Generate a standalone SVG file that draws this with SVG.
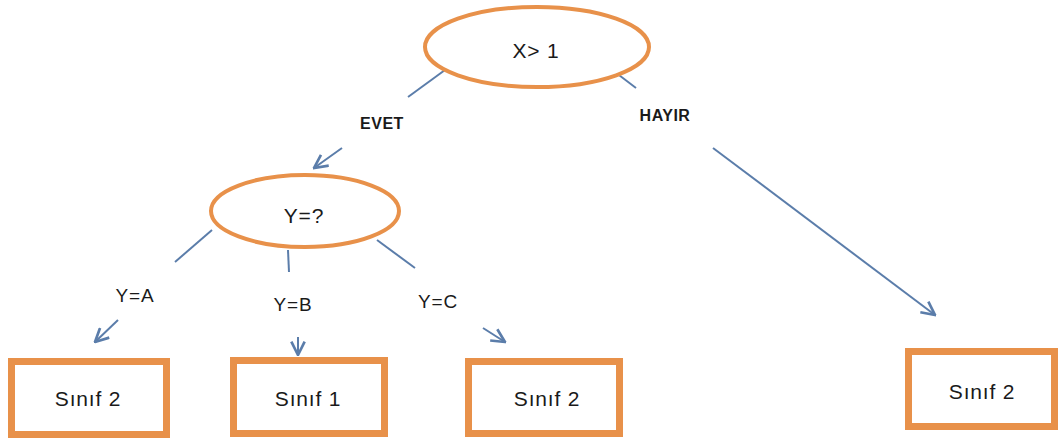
<svg xmlns="http://www.w3.org/2000/svg" width="1059" height="444" viewBox="0 0 1059 444">
<style>
.node{fill:#ffffff;stroke:#E8914A;}
.ell{stroke-width:4;}
.box{stroke-width:7;}
.t{font-family:"Liberation Sans",Arial,sans-serif;fill:#1a1a1a;text-anchor:middle;dominant-baseline:central;}
.nt{font-size:21px;letter-spacing:0.8px;}
.lbl{font-size:19px;letter-spacing:0.8px;}
.b{font-weight:bold;font-size:16px;letter-spacing:0.5px;}
.c{stroke:#5B7DAA;stroke-width:2;fill:none;}
</style>
<defs>
<marker id="ah" viewBox="0 0 12 12" refX="11" refY="6" markerWidth="16" markerHeight="16" markerUnits="userSpaceOnUse" orient="auto">
<path d="M1,1 L11,6 L1,11" fill="none" stroke="#5B7DAA" stroke-width="2"/>
</marker>
</defs>
<rect width="1059" height="444" fill="#ffffff"/>
<g id="connectors">
<line class="c" x1="445" y1="70" x2="408" y2="97"/>
<line class="c" x1="342" y1="148" x2="314" y2="168" marker-end="url(#ah)"/>
<line class="c" x1="615" y1="72" x2="636" y2="88"/>
<line class="c" x1="713" y1="148" x2="935" y2="315" marker-end="url(#ah)"/>
<line class="c" x1="212" y1="230" x2="175" y2="262"/>
<line class="c" x1="118" y1="320" x2="95" y2="342" marker-end="url(#ah)"/>
<line class="c" x1="288" y1="250" x2="289" y2="272"/>
<line class="c" x1="298" y1="337" x2="298" y2="355" marker-end="url(#ah)"/>
<line class="c" x1="377" y1="240" x2="415" y2="268"/>
<line class="c" x1="483" y1="328" x2="505" y2="342" marker-end="url(#ah)"/>
<text class="t b" x="382" y="123">EVET</text>
<text class="t b" x="665" y="115">HAYIR</text>
<text class="t lbl" x="135" y="295">Y=A</text>
<text class="t lbl" x="293" y="304">Y=B</text>
<text class="t lbl" x="438" y="301">Y=C</text>
</g>
<g id="n-x">
<ellipse class="node ell" cx="537" cy="47" rx="112" ry="40"/>
<text class="t nt" x="536" y="50">X&gt; 1</text>
</g>
<g id="n-y">
<ellipse class="node ell" cx="305" cy="211" rx="94" ry="36"/>
<text class="t nt" x="304" y="215">Y=?</text>
</g>
<g id="n-s1">
<rect class="node box" x="11.5" y="361.5" width="155" height="73"/>
<text class="t nt" x="88" y="398">Sınıf 2</text>
</g>
<g id="n-s2">
<rect class="node box" x="233.5" y="360.5" width="151" height="73"/>
<text class="t nt" x="308" y="398">Sınıf 1</text>
</g>
<g id="n-s3">
<rect class="node box" x="468.5" y="361.5" width="151" height="72"/>
<text class="t nt" x="547" y="398">Sınıf 2</text>
</g>
<g id="n-s4">
<rect class="node box" x="908.5" y="351.5" width="146" height="75"/>
<text class="t nt" x="982" y="391">Sınıf 2</text>
</g>
</svg>
